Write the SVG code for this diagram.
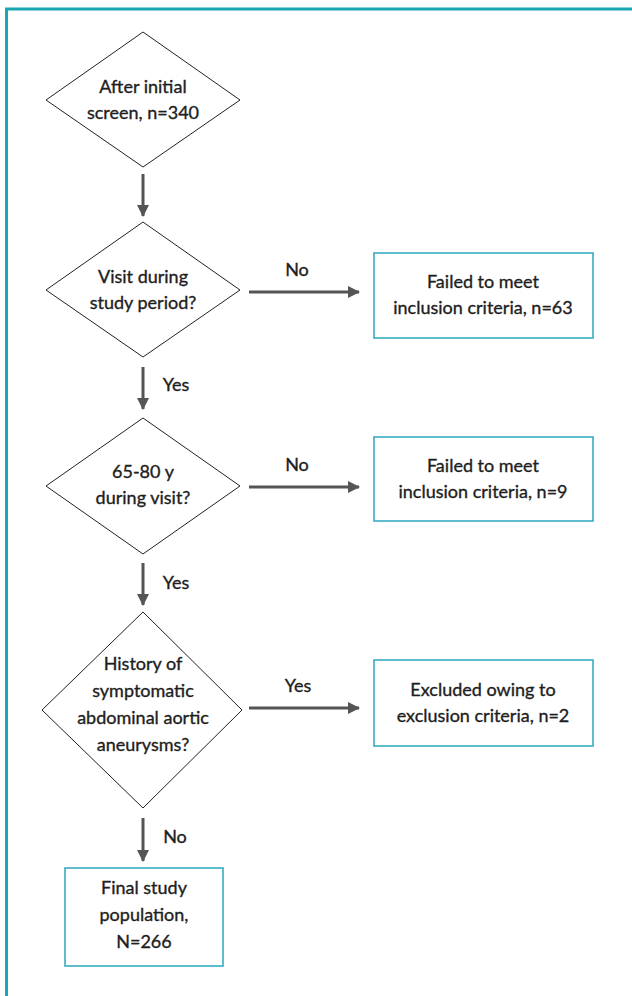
<svg xmlns="http://www.w3.org/2000/svg" width="632" height="996" viewBox="0 0 632 996">
<defs>
<marker id="ah" markerWidth="12" markerHeight="12" refX="11" refY="6" orient="auto" markerUnits="userSpaceOnUse">
<path d="M0,0 L12,6 L0,12 Z" fill="#555"/>
</marker>
<style>
text{font-family:Lato,"Open Sans","Liberation Sans",sans-serif;font-size:18px;fill:#1e1e1e;stroke:#1e1e1e;stroke-width:0.35px;text-anchor:middle}
.d{fill:#fff;stroke:#222;stroke-width:1}
.b{fill:#fff;stroke:#2aa7bf;stroke-width:1.5}
.c line{stroke:#555;stroke-width:3;marker-end:url(#ah)}
</style>
</defs>
<rect x="0" y="0" width="632" height="996" fill="#fff"/>
<path d="M6.5,996 V9 H632" fill="none" stroke="#1aa5b5" stroke-width="3"/>
<g id="n1"><polygon class="d" points="143,32 240,100 143,167 46,100"/><text x="143" y="93">After initial</text><text x="143" y="119">screen, n=340</text></g>
<g id="n2"><polygon class="d" points="143,222 240,290 143,357 46,290"/><text x="143" y="283">Visit during</text><text x="143" y="309">study period?</text></g>
<g id="n3"><polygon class="d" points="143,418 240,486 143,554 46,486"/><text x="143" y="478">65-80 y</text><text x="143" y="504">during visit?</text></g>
<g id="n4"><polygon class="d" points="143,612 242,710 143,808 42,710"/><text x="143" y="670">History of</text><text x="143" y="697">symptomatic</text><text x="143" y="724">abdominal aortic</text><text x="143" y="751">aneurysms?</text></g>
<g id="b1"><rect class="b" x="374" y="253" width="219" height="85"/><text x="483" y="288">Failed to meet</text><text x="483" y="314">inclusion criteria, n=63</text></g>
<g id="b2"><rect class="b" x="374" y="437" width="219" height="84"/><text x="483" y="472">Failed to meet</text><text x="483" y="498">inclusion criteria, n=9</text></g>
<g id="b3"><rect class="b" x="374" y="660" width="219" height="86"/><text x="483" y="696">Excluded owing to</text><text x="483" y="722">exclusion criteria, n=2</text></g>
<g id="b4"><rect class="b" x="65" y="868" width="158" height="98"/><text x="144" y="894">Final study</text><text x="144" y="921">population,</text><text x="144" y="948">N=266</text></g>
<g class="c" id="connectors">
<line x1="143" y1="174" x2="143" y2="216"/>
<line x1="143" y1="367" x2="143" y2="409"/>
<line x1="143" y1="563" x2="143" y2="605"/>
<line x1="143" y1="818" x2="143" y2="861"/>
<line x1="249" y1="292" x2="359" y2="292"/>
<line x1="249" y1="487" x2="359" y2="487"/>
<line x1="249" y1="708" x2="359" y2="708"/>
<text x="297" y="276">No</text>
<text x="176" y="391">Yes</text>
<text x="297" y="471">No</text>
<text x="176" y="589">Yes</text>
<text x="298" y="692">Yes</text>
<text x="175" y="843">No</text>
</g>
</svg>
